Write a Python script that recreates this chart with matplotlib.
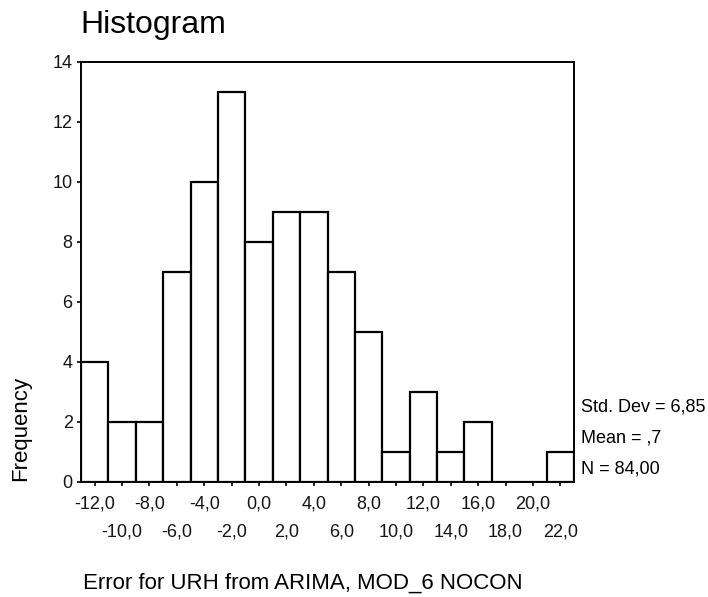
import matplotlib
matplotlib.use("Agg")
import matplotlib.pyplot as plt
import numpy as np

# bin centres and counts
centres = [-12, -10, -8, -6, -4, -2, 0, 2, 4, 6, 8, 10, 12, 14, 16, 18, 20, 22]
freq = [4, 2, 2, 7, 10, 13, 8, 9, 9, 7, 5, 1, 3, 1, 2, 0, 0, 1]
tick_labels = ["-12,0", "-10,0", "-8,0", "-6,0", "-4,0", "-2,0", "0,0", "2,0", "4,0",
               "6,0", "8,0", "10,0", "12,0", "14,0", "16,0", "18,0", "20,0", "22,0"]
stats = ["Std. Dev = 6,85", "Mean = ,7", "N = 84,00"]

plt.rcParams['font.family'] = ['Liberation Sans', 'DejaVu Sans']

W, H = 708, 597
fig = plt.figure(figsize=(W / 100, H / 100), dpi=100)
ax = fig.add_axes([81 / W, 1 - 482 / H, (574 - 81) / W, (482 - 62) / H])

ax.bar(centres, freq, width=2, color="white", edgecolor="black", linewidth=1.6)

ax.set_xlim(-13, 23)
ax.set_ylim(0, 14)
ax.set_yticks(range(0, 15, 2))

# SPSS puts every other label on a second row
ax.set_xticks(centres[0::2])
ax.set_xticklabels(tick_labels[0::2])
ax.set_xticks(centres[1::2], minor=True)
ax.set_xticklabels(tick_labels[1::2], minor=True)

ax.tick_params(axis="both", which="both", direction="out", length=3, width=1.3,
               labelsize=13, colors="#151515")
ax.tick_params(axis="x", which="major", pad=7)
ax.tick_params(axis="x", which="minor", pad=27)
ax.tick_params(axis="y", pad=3)
for s in ax.spines.values():
    s.set_linewidth(1.4)

fig.text(80 / W, 1 - 33 / H, "Histogram", fontsize=23, va="baseline", ha="left")
fig.text(21 / W, 1 - 481 / H, "Frequency", fontsize=16, rotation=90, va="bottom", ha="center")
fig.text(83 / W, 1 - 589 / H, "Error for URH from ARIMA, MOD_6 NOCON", fontsize=16,
         va="baseline", ha="left")

for i, s in enumerate(stats):
    fig.text(581 / W, 1 - (412 + 30.5 * i) / H, s, fontsize=13, va="baseline", ha="left")

fig.savefig("out.png", dpi=100)
